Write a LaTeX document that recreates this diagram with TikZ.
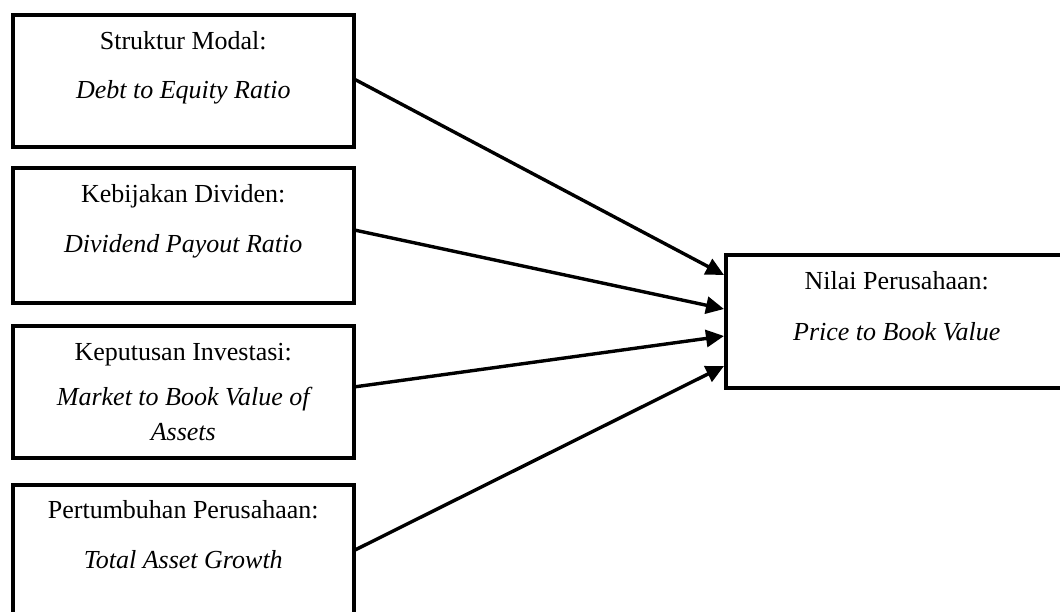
\documentclass[tikz,border=0pt]{standalone}
\usepackage{fontspec}
\setmainfont{Liberation Serif}
\usetikzlibrary{arrows.meta,calc}
\begin{document}
\begin{tikzpicture}[x=0.5pt,y=-0.5pt,
  box/.style={draw,line width=1.75pt,inner sep=0pt,anchor=north west,minimum width=170.5pt},
  lbl/.style={anchor=base,font=\fontsize{13}{15}\selectfont,inner sep=0pt},
  arr/.style={line width=1.7pt,-{Triangle[length=9pt,width=8.5pt]}}]
\useasboundingbox (0,0) rectangle (1060,611);
\clip (0,0) rectangle (1060,611);
\fill[white] (0,0) rectangle (1060,611);
% left boxes
\node[box,minimum height=66pt] (b1) at (11,13) {};
\node[box,minimum height=67.5pt] (b2) at (11,166) {};
\node[box,minimum height=66pt] (b3) at (11,324) {};
\node[box,minimum height=66pt] (b4) at (11,483) {};
% right box
\node[box,minimum width=171pt,minimum height=66.5pt] (nv) at (724,253) {};
% labels
\node[lbl] (t1a) at ($(b1.north)+(0,36)$) {Struktur Modal:};
\node[lbl] (t1b) at ($(b1.north)+(0,85)$) {\itshape Debt to Equity Ratio};
\node[lbl] (t2a) at ($(b2.north)+(0,36)$) {Kebijakan Dividen:};
\node[lbl] (t2b) at ($(b2.north)+(0,86)$) {\itshape Dividend Payout Ratio};
\node[lbl] (t3a) at ($(b3.north)+(0,36)$) {Keputusan Investasi:};
\node[lbl] (t3b) at ($(b3.north)+(0,81)$) {\itshape Market to Book Value of};
\node[lbl] (t3c) at ($(b3.north)+(0,116)$) {\itshape Assets};
\node[lbl] (t4a) at ($(b4.north)+(0,35)$) {Pertumbuhan Perusahaan:};
\node[lbl] (t4b) at ($(b4.north)+(0,85)$) {\itshape Total Asset Growth};
\node[lbl] (tna) at ($(nv.north)+(0,36)$) {Nilai Perusahaan:};
\node[lbl] (tnb) at ($(nv.north)+(0,87)$) {\itshape Price to Book Value};
% arrows
\draw[arr] ($(b1.east)+(0,-1)$) -- ($(nv.north west)+(0,22)$);
\draw[arr] ($(b2.east)+(0,-5)$) -- ($(nv.north west)+(0,56)$);
\draw[arr] ($(b3.east)+(0,-5)$) -- ($(nv.north west)+(0,83)$);
\draw[arr] ($(b4.east)+(0,-1)$) -- ($(nv.north west)+(0,113)$);
\end{tikzpicture}
\end{document}
